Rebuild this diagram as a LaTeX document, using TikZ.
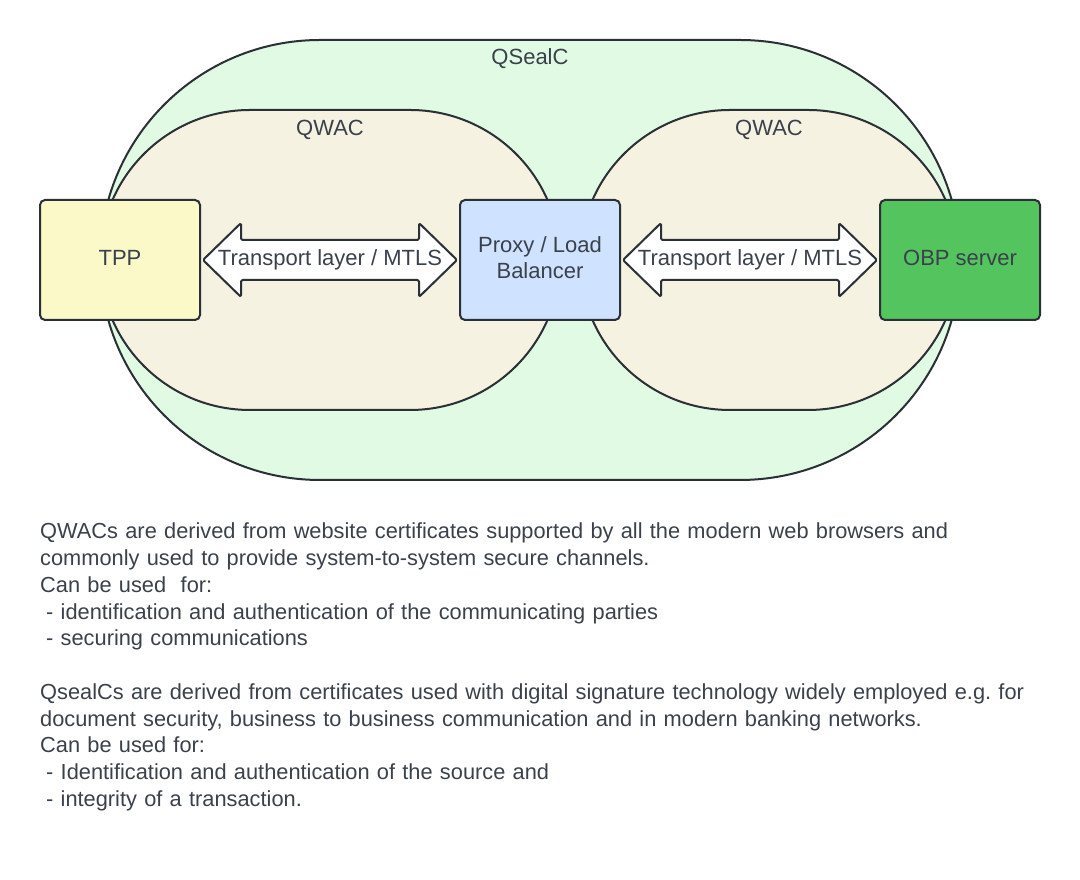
\documentclass[tikz,border=0pt]{standalone}
\usepackage{fontspec}
\setmainfont{Liberation Sans}
\usetikzlibrary{calc}

\definecolor{linec}{HTML}{2B2F36}
\definecolor{textc}{HTML}{3A414B}
\definecolor{sealfill}{HTML}{E1FAE3}
\definecolor{qwacfill}{HTML}{F5F2E2}
\definecolor{tppfill}{HTML}{FBF9C8}
\definecolor{proxyfill}{HTML}{CFE2FF}
\definecolor{obpfill}{HTML}{54C45E}

\begin{document}
\begin{tikzpicture}[x=1pt,y=1pt,
	every node/.style={font=\fontsize{22}{26.75}\selectfont},
	zone/.style={draw=linec,line width=2pt},
	box/.style={draw=linec,line width=2pt,rounded corners=5pt,text depth=5pt,
		minimum width=160pt,minimum height=120pt,align=center,text=textc},
	link/.style={draw=linec,line width=2pt,fill=white,
		rounded corners=1.5pt,line join=round},
	lbl/.style={text=textc,inner sep=0pt}]

% parameters %{{{2

	% ---- radii of the two stadium shapes

	\def\rseal{220}
	\def\rqwac{150}

	\useasboundingbox (0,0) rectangle (1080,880);

% zones %{{{2

	% ---- QSealC, outer

	\draw[zone,fill=sealfill] (320,840) -- (740,840)
		arc[start angle=90,end angle=-90,radius=\rseal] -- (320,400)
		arc[start angle=270,end angle=90,radius=\rseal] -- cycle;

	% ---- QWAC, left and right

	\draw[zone,fill=qwacfill] (250,770) -- (410,770)
		arc[start angle=90,end angle=-90,radius=\rqwac] -- (250,470)
		arc[start angle=270,end angle=90,radius=\rqwac] -- cycle;
	\draw[zone,fill=qwacfill] (730,770) -- (808,770)
		arc[start angle=90,end angle=-90,radius=\rqwac] -- (730,470)
		arc[start angle=270,end angle=90,radius=\rqwac] -- cycle;

	\node[lbl] (seal) at (530,821) {QSealC};
	\node[lbl] (qwacL) at (330,750) {QWAC};
	\node[lbl] (qwacR) at (769,750) {QWAC};

% boxes %{{{2

	\node[box,fill=tppfill] (tpp) at (120,620) {TPP};
	\node[box,fill=proxyfill] (proxy) at (540,620) {Proxy / Load\\Balancer};
	\node[box,fill=obpfill] (obp) at (960,620) {OBP server};

% transport links %{{{2

	% ---- tips of the double arrows

	\coordinate (l1) at ($(tpp.east)+(2,0)$);
	\coordinate (r1) at ($(proxy.west)+(-2,0)$);
	\coordinate (l2) at ($(proxy.east)+(2,0)$);
	\coordinate (r2) at ($(obp.west)+(-2,0)$);

	\draw[link] (l1) -- ++(38,37) -- ++(0,-17) -- ($(r1)+(-38,20)$)
		-- ++(0,17) -- (r1) -- ++(-38,-37) -- ++(0,17)
		-- ($(l1)+(38,-20)$) -- ++(0,-17) -- cycle;
	\draw[link] (l2) -- ++(38,37) -- ++(0,-17) -- ($(r2)+(-38,20)$)
		-- ++(0,17) -- (r2) -- ++(-38,-37) -- ++(0,17)
		-- ($(l2)+(38,-20)$) -- ++(0,-17) -- cycle;

	\node[lbl] (mtls1) at ($(l1)!0.5!(r1)$) {Transport layer / MTLS};
	\node[lbl] (mtls2) at ($(l2)!0.5!(r2)$) {Transport layer / MTLS};

% notes %{{{2

	\node[lbl,anchor=north west,text width=1020pt,align=left,
		font=\fontsize{21.8}{26.75}\selectfont] (notes) at (40,357)
	{\frenchspacing
	QWACs are derived from website certificates supported by all the modern web browsers and\\
	commonly used to provide system-to-system secure channels.\\
	Can be used\ \ for:\\
	\hspace*{6pt}- identification and authentication of the communicating parties\\
	\hspace*{6pt}- securing communications\\
	\mbox{}\\
	QsealCs are derived from certificates used with digital signature technology widely employed e.g. for\\
	document security, business to business communication and in modern banking networks.\\
	Can be used for:\\
	\hspace*{6pt}- Identification and authentication of the source and\\
	\hspace*{6pt}- integrity of a transaction.};

% closing %{{{2

\end{tikzpicture}
\end{document}
